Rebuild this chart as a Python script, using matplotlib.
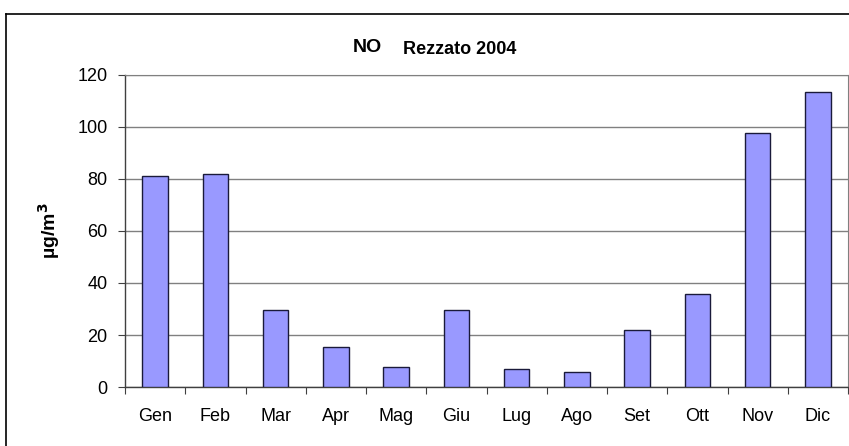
import matplotlib
matplotlib.use("Agg")
import matplotlib.pyplot as plt
from matplotlib.lines import Line2D
import numpy as np

months = ["Gen", "Feb", "Mar", "Apr", "Mag", "Giu", "Lug", "Ago", "Set", "Ott", "Nov", "Dic"]
values = [81.2, 81.8, 29.8, 15.5, 7.8, 29.8, 6.9, 5.8, 22.1, 35.6, 97.6, 113.6]
yticks = [0, 20, 40, 60, 80, 100, 120]

plt.rcParams['font.family'] = ['Liberation Sans', 'DejaVu Sans']

W, H = 849, 446
fig = plt.figure(figsize=(W / 100, H / 100), dpi=100)
ax = fig.add_axes([125 / W, 1 - 387 / H, (848 - 125) / W, (387 - 75) / H])

x = np.arange(len(months))
ax.bar(x, values, width=0.42, color="#9999FF", edgecolor="#1a1a3a", linewidth=1.0, zorder=3)

ax.set_xlim(-0.5, len(months) - 0.5)
ax.set_ylim(0, 120)
ax.set_yticks(yticks)
ax.set_yticklabels([str(v) for v in yticks], fontsize=13)
ax.yaxis.grid(True, color="#808080", linewidth=1.0, zorder=0)
ax.set_axisbelow(True)

ax.set_xticks(np.arange(-0.5, len(months), 1.0))
ax.set_xticklabels([])
ax.set_xticks(x, minor=True)
ax.set_xticklabels(months, minor=True, fontsize=13)
ax.tick_params(axis="x", which="minor", length=0, pad=15)
ax.tick_params(axis="x", which="major", length=5, direction="out", color="#404040")
ax.tick_params(axis="y", length=5, direction="out", color="#404040", pad=7.5)

for s in ["left", "bottom"]:
    ax.spines[s].set_color("#404040")
    ax.spines[s].set_linewidth(1.0)
ax.spines["top"].set_color("#808080")
ax.spines["right"].set_color("#808080")

ax.set_ylabel("µg/m$^\\mathbf{3}$", fontsize=14, fontweight="bold")
ax.yaxis.set_label_coords(-0.087, 0.5)

fig.text(352.7 / W, 1 - 52.5 / H, "NO", fontsize=14, fontweight="bold", ha="left", va="baseline")
fig.text(402.7 / W, 1 - 53.5 / H, "Rezzato 2004", fontsize=13, fontweight="bold", ha="left", va="baseline")

# outer frame (cropped chart border)
fig.add_artist(Line2D([5.5 / W, 5.5 / W], [0, 1 - 14 / H], color="black", linewidth=1.2, transform=fig.transFigure))
fig.add_artist(Line2D([5.5 / W, 1], [1 - 14 / H, 1 - 14 / H], color="black", linewidth=1.2, transform=fig.transFigure))

fig.savefig("out.png", dpi=100)
